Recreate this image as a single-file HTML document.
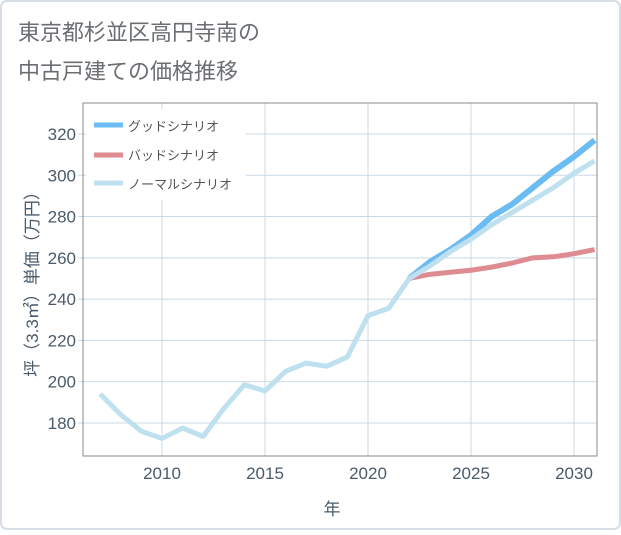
<!DOCTYPE html>
<html><head><meta charset="utf-8"><style>
html,body{margin:0;padding:0;background:#fff;}
body{width:621px;height:530px;overflow:hidden;font-family:"Liberation Sans","Noto Sans CJK JP",sans-serif;}
</style></head><body>
<svg width="621" height="530" xmlns="http://www.w3.org/2000/svg" font-family="Liberation Sans, Noto Sans CJK JP, sans-serif">
<rect x="1" y="1" width="619" height="528" rx="6" fill="#fff" stroke="#d6dde4" stroke-width="2"/>
<text x="18" y="40" font-size="22" fill="#6b6f73">東京都杉並区高円寺南の</text>
<text x="18" y="79" font-size="22" fill="#6b6f73">中古戸建ての価格推移</text>
<g id="grid"></g>
<g id="axes"></g>
<g id="series"></g>
<rect x="83" y="103" width="514" height="353" fill="none" stroke="#888" stroke-width="1"/>
<g>
<rect x="86" y="110" width="160" height="90" fill="#fff"/>
<line x1="94" y1="125" x2="123" y2="125" stroke="#6bbcf2" stroke-width="5"/>
<text x="128" y="131" font-size="13" fill="#555">グッドシナリオ</text>
<line x1="94" y1="155" x2="123" y2="155" stroke="#de8b92" stroke-width="5"/>
<text x="128" y="160" font-size="13" fill="#555">バッドシナリオ</text>
<line x1="94" y1="183" x2="123" y2="183" stroke="#bfe0ef" stroke-width="5"/>
<text x="128" y="189" font-size="13" fill="#555">ノーマルシナリオ</text>
</g>
<text x="332" y="515" font-size="17" fill="#4a5a6a" text-anchor="middle">年</text>
<text transform="translate(38,280) rotate(-90)" font-size="17" fill="#4a5a6a" text-anchor="middle">坪（3.3㎡）単価（万円）</text>
</svg>
<script>
const years=[2007,2008,2009,2010,2011,2012,2013,2014,2015,2016,2017,2018,2019,2020,2021,2022,2023,2024,2025,2026,2027,2028,2029,2030,2031];
const normalValues=[194,184,176,172.5,177.5,173.5,187,198.5,195.5,205,209,207.5,212,232,235.5,250,256,263,269,276,282,288,294,301,307];
const forecastYears=[2022,2023,2024,2025,2026,2027,2028,2029,2030,2031];
const goodValues=[250,258,264,271,280,286,294,302,309,317];
const badValues=[250,252,253,254,255.5,257.5,260,260.5,262,264];
const xTicks=[2010,2015,2020,2025,2030];
const yTicks=[180,200,220,240,260,280,300,320];
const NS="http://www.w3.org/2000/svg";
const X=y=>162+(y-2010)*20.6;
const Y=v=>134+(320-v)*2.064;
const grid=document.getElementById('grid'),axes=document.getElementById('axes'),series=document.getElementById('series');
function mk(tag,attrs,parent){const e=document.createElementNS(NS,tag);for(const k in attrs)e.setAttribute(k,attrs[k]);parent.appendChild(e);return e;}
xTicks.forEach(t=>{
 const l=mk('line',{x1:X(t),x2:X(t),y1:103,y2:456,stroke:'#cbd9e6','stroke-width':1},grid);
 
 
 const tx=mk('text',{x:X(t),y:479,'font-size':17,fill:'#4a5a6a','text-anchor':'middle'},axes);
 tx.textContent=t;
 
 
});
yTicks.forEach(t=>{
 const l=mk('line',{x1:78,x2:597,y1:Y(t),y2:Y(t),stroke:'#cbd9e6','stroke-width':1},grid);
 
 
 const tx=mk('text',{x:76,y:Y(t)+6,'font-size':17,fill:'#4a5a6a','text-anchor':'end'},axes);
 tx.textContent=t;
 
 
});
function line(xs,vs,color,w,name){
 const p=mk('polyline',{points:xs.map((x,i)=>X(x)+','+Y(vs[i])).join(' '),fill:'none',stroke:color,'stroke-width':w,'stroke-linejoin':'round','clip-path':'url(#clip)'},series);
 
 
}
const defs=mk('defs',{},series);const cp=mk('clipPath',{id:'clip'},defs);mk('rect',{x:83,y:103,width:514,height:353},cp);
line(forecastYears,badValues,'#de8b92',5,'bad-scenario-line');
line(forecastYears,goodValues,'#6bbcf2',6,'good-scenario-line');
line(years,normalValues,'#bfe0ef',5,'normal-scenario-line');
</script>
</body></html>
